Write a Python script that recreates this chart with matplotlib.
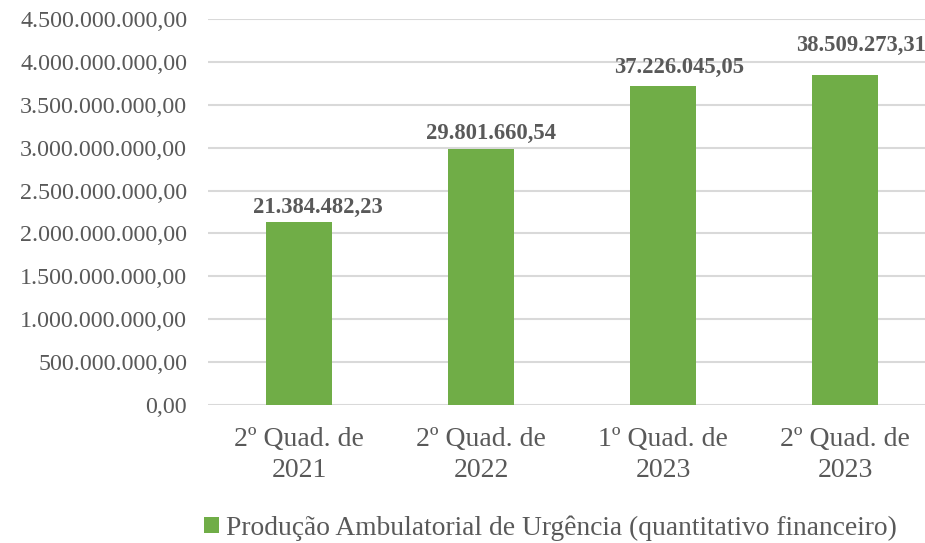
import matplotlib.pyplot as plt

# dados do gráfico
periodos = ["2º Quad. de\n2021", "2º Quad. de\n2022", "1º Quad. de\n2023", "2º Quad. de\n2023"]
valores = [2138448223, 2980166054, 3722604505, 3850927331]
rotulos = ["21.384.482,23", "29.801.660,54", "37.226.045,05", "38.509.273,31"]
yticks = [0, 500e6, 1000e6, 1500e6, 2000e6, 2500e6, 3000e6, 3500e6, 4000e6, 4500e6]
serie = "Produção Ambulatorial de Urgência (quantitativo financeiro)"

# posição manual dos rótulos (px, como no original)
desloc_x = [19, 10, 16, 16]
desloc_y = [9, 10, 13, 24]

cor_barra = "#70ad47"
cor_texto = "#595959"

plt.rcParams['font.family'] = ['Liberation Serif', 'DejaVu Serif']

fig = plt.figure(figsize=(9.25, 5.43), dpi=100)
ax = fig.add_axes([208 / 925, (543 - 405) / 543, 728 / 925, 386 / 543])

x = range(len(periodos))
ax.bar(x, valores, width=0.36, color=cor_barra, zorder=3, label=serie)

for xi, v, txt, dx, dy in zip(x, valores, rotulos, desloc_x, desloc_y):
    ax.annotate(txt, (xi, v), xytext=(dx * 0.72, dy * 0.72), textcoords='offset points',
                ha='center', va='baseline', fontsize=16.3, fontweight='bold',
                color=cor_texto, zorder=4)

ax.set_xlim(-0.5, 3.5)
ax.set_ylim(0, 4500e6)
ax.set_yticks(yticks)
ax.set_yticklabels([f"{v:,.2f}".replace(",", "X").replace(".", ",").replace("X", ".") for v in yticks])
ax.set_xticks(list(x))
ax.set_xticklabels(periodos)

ax.grid(axis='y', color="#d9d9d9", linewidth=1.5, zorder=0)
for s in ax.spines.values():
    s.set_visible(False)
ax.tick_params(axis='y', length=0, labelsize=17.3, colors=cor_texto, pad=15)
ax.tick_params(axis='x', length=0, labelsize=20, colors=cor_texto, pad=16)
for lbl in ax.get_xticklabels():
    lbl.set_linespacing(1.3)

fig.legend(loc='center', bbox_to_anchor=(550 / 925, 1 - 528 / 543), frameon=False,
           fontsize=19.8, labelcolor=cor_texto, handlelength=0.55, handleheight=0.55,
           handletextpad=0.25)

plt.savefig("out.png", dpi=100)
plt.close()
